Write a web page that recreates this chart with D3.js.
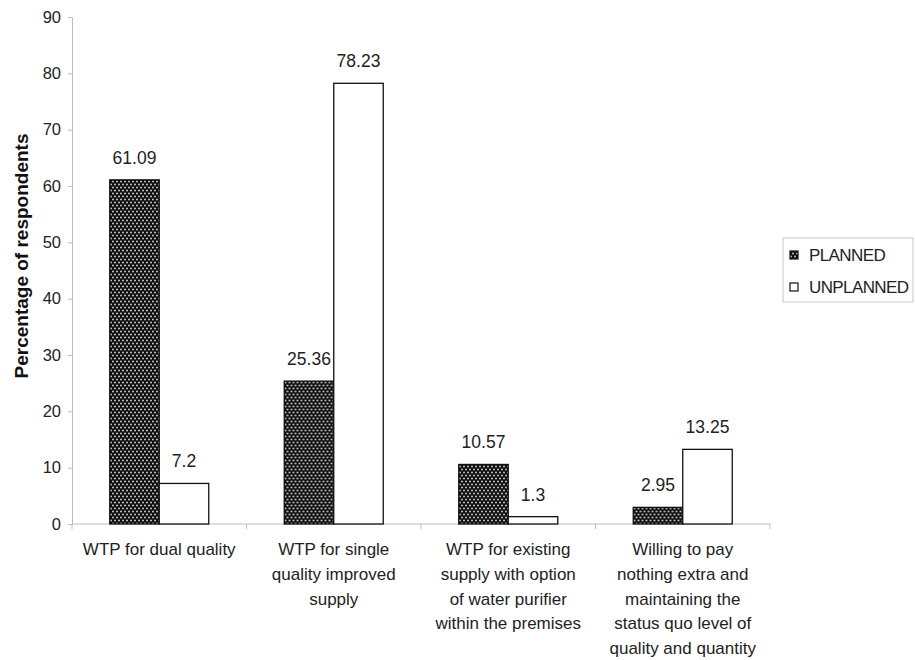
<!DOCTYPE html>
<html>
<head>
<meta charset="utf-8">
<script src="https://cdn.jsdelivr.net/npm/d3@7"></script>
<style>
  html, body { margin: 0; padding: 0; background: #fff; }
  svg { display: block; font-family: Arial, "Liberation Sans", sans-serif; }
</style>
</head>
<body>
<svg id="chart" width="915" height="660"></svg>
<script>
// Willingness-to-pay responses by settlement type
const categories = [
  ["WTP for dual quality"],
  ["WTP for single", "quality improved", "supply"],
  ["WTP for existing", "supply with option", "of water purifier", "within the premises"],
  ["Willing to pay", "nothing extra and", "maintaining the", "status quo level of", "quality and quantity"]
];
const seriesNames = ["PLANNED", "UNPLANNED"];
const planned = [61.09, 25.36, 10.57, 2.95];
const unplanned = [7.2, 78.23, 1.3, 13.25];
const yTicks = [0, 10, 20, 30, 40, 50, 60, 70, 80, 90];

const svg = d3.select("#chart");
const defs = svg.append("defs");

// dotted dark fill for the PLANNED series
const pat = defs.append("pattern")
  .attr("id", "dots")
  .attr("patternUnits", "userSpaceOnUse")
  .attr("width", 4).attr("height", 6);
pat.append("rect").attr("width", 4).attr("height", 6).attr("fill", "#0d0d0d");
pat.append("circle").attr("cx", 1).attr("cy", 1.5).attr("r", 1).attr("fill", "#c8c8c8");
pat.append("circle").attr("cx", 3).attr("cy", 4.5).attr("r", 1).attr("fill", "#c8c8c8");

const fills = { PLANNED: "url(#dots)", UNPLANNED: "#fff" };

const plotLeft = 72, plotRight = 770, plotTop = 17, plotBottom = 524;

const idx = d3.range(categories.length);
const x0 = d3.scaleBand().domain(idx).range([plotLeft, plotRight]).paddingInner(0).paddingOuter(0);
const x1 = d3.scaleBand().domain(seriesNames).range([0, x0.bandwidth()])
  .paddingInner(0).paddingOuter(0.7626);
const y = d3.scaleLinear().domain([0, 90]).range([plotBottom, plotTop]);

const axisColor = "#bdbdbd";
const textColor = "#222";

// y axis
const yAxis = svg.append("g")
  .attr("transform", `translate(${plotLeft},0)`)
  .call(d3.axisLeft(y).tickValues(yTicks).tickSize(4).tickPadding(7).tickFormat(d3.format("d")));
yAxis.select(".domain").attr("stroke", axisColor);
yAxis.selectAll(".tick line").attr("stroke", axisColor);
yAxis.selectAll(".tick text").attr("fill", textColor).style("font-size", "16.5px")
  .style("font-family", "Arial, 'Liberation Sans', sans-serif");

// x axis baseline with category boundary ticks
const xg = svg.append("g");
xg.append("line")
  .attr("x1", plotLeft).attr("x2", plotRight)
  .attr("y1", y(0)).attr("y2", y(0))
  .attr("stroke", axisColor);
const bounds = idx.map(i => x0(i)).concat([x0(idx[idx.length - 1]) + x0.bandwidth()]);
xg.selectAll("line.bt").data(bounds).join("line")
  .attr("class", "bt")
  .attr("x1", d => d).attr("x2", d => d)
  .attr("y1", y(0)).attr("y2", y(0) + 5)
  .attr("stroke", axisColor);

// category labels
const labels = svg.append("g");
categories.forEach((lines, i) => {
  const cx = x0(i) + x0.bandwidth() / 2;
  const t = labels.append("text")
    .attr("x", cx)
    .attr("y", 555)
    .attr("text-anchor", "middle")
    .attr("fill", textColor)
    .style("font-size", "17px");
  lines.forEach((ln, j) => {
    t.append("tspan").attr("x", cx).attr("dy", j === 0 ? 0 : 24.8).text(ln);
  });
});

// y axis title
svg.append("text")
  .attr("transform", "translate(28,256) rotate(-90)")
  .attr("text-anchor", "middle")
  .attr("fill", "#111")
  .style("font-size", "19px")
  .style("font-weight", "bold")
  .text("Percentage of respondents");

// bars
const rows = idx.map(i => ({ i, values: [
  { key: "PLANNED", value: planned[i] },
  { key: "UNPLANNED", value: unplanned[i] }
]}));

const groups = svg.append("g").selectAll("g").data(rows).join("g")
  .attr("transform", d => `translate(${x0(d.i)},0)`);

groups.selectAll("rect").data(d => d.values).join("rect")
  .attr("x", d => x1(d.key))
  .attr("y", d => y(d.value))
  .attr("width", x1.bandwidth())
  .attr("height", d => y(0) - y(d.value))
  .attr("fill", d => fills[d.key])
  .attr("stroke", "#111")
  .attr("stroke-width", 1.3);

groups.selectAll("text").data(d => d.values).join("text")
  .attr("x", d => x1(d.key) + x1.bandwidth() / 2)
  .attr("y", d => y(d.value) - 16)
  .attr("text-anchor", "middle")
  .attr("fill", textColor)
  .style("font-size", "17.5px")
  .text(d => d.value);

// legend
const lg = svg.append("g").attr("transform", "translate(783,238)");
lg.append("rect").attr("width", 130).attr("height", 64)
  .attr("fill", "#fff").attr("stroke", "#c8c8c8");
seriesNames.forEach((s, k) => {
  const row = lg.append("g").attr("transform", `translate(7,${17 + k * 32})`);
  row.append("rect").attr("x", 0).attr("y", -4).attr("width", 8).attr("height", 8)
    .attr("fill", fills[s]).attr("stroke", "#111").attr("stroke-width", 1.2);
  row.append("text").attr("x", 19).attr("y", 6)
    .attr("fill", textColor)
    .style("font-size", "17px")
    .style("letter-spacing", "-0.6px")
    .text(s);
});
</script>
</body>
</html>
